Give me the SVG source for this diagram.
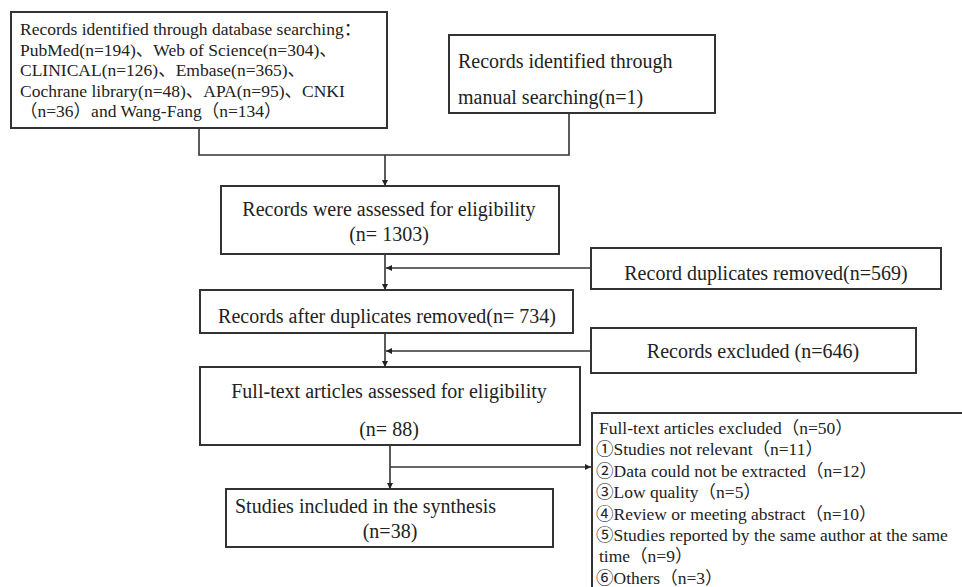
<svg xmlns="http://www.w3.org/2000/svg" width="962" height="587" viewBox="0 0 962 587">
<style>
.box{fill:#fff;stroke:#333;stroke-width:2}
.t{font-family:"Liberation Serif","Noto Sans CJK SC",serif;fill:#222}
.s20{font-size:20px}
.s17{font-size:17.5px}
.c{text-anchor:middle}
.ln{fill:none;stroke:#333;stroke-width:1.6}
</style>
<defs>
<marker id="ah" viewBox="0 0 10 10" refX="10" refY="5" markerWidth="6" markerHeight="6" markerUnits="userSpaceOnUse" orient="auto">
<path d="M0,0 L10,5 L0,10 z" fill="#222"/>
</marker>
</defs>
<rect width="962" height="587" fill="#fff"/>
<g id="connectors">
<path class="ln" d="M199,128 V155 H569 V113"/>
<path class="ln" d="M385,155 V186" marker-end="url(#ah)"/>
<path class="ln" d="M385,254 V290" marker-end="url(#ah)"/>
<path class="ln" d="M591,268 H386" marker-end="url(#ah)"/>
<path class="ln" d="M385,333 V367" marker-end="url(#ah)"/>
<path class="ln" d="M591,351 H386" marker-end="url(#ah)"/>
<path class="ln" d="M390,445 V489" marker-end="url(#ah)"/>
<path class="ln" d="M390,467 H591" marker-end="url(#ah)"/>
</g>
<g id="n1">
<rect class="box" x="11" y="12" width="376" height="116"/>
<text class="t s17" x="20" y="35">Records identified through database searching：</text>
<text class="t s17" x="20" y="55.5">PubMed(n=194)、Web of Science(n=304)、</text>
<text class="t s17" x="20" y="76">CLINICAL(n=126)、Embase(n=365)、</text>
<text class="t s17" x="20" y="96.5">Cochrane library(n=48)、APA(n=95)、CNKI</text>
<text class="t s17" x="20" y="117">（n=36）and Wang-Fang（n=134）</text>
</g>
<g id="n2">
<rect class="box" x="449" y="35" width="266" height="78"/>
<text class="t s20" x="458" y="68">Records identified through</text>
<text class="t s20" x="458" y="104">manual searching(n=1)</text>
</g>
<g id="n3">
<rect class="box" x="221" y="186" width="338" height="68"/>
<text class="t s20 c" x="389" y="216">Records were assessed for eligibility</text>
<text class="t s20 c" x="389" y="241">(n= 1303)</text>
</g>
<g id="n4">
<rect class="box" x="200" y="290" width="373" height="43"/>
<text class="t s20 c" x="387" y="323">Records after duplicates removed(n= 734)</text>
</g>
<g id="n5">
<rect class="box" x="591" y="248" width="350" height="41"/>
<text class="t s20 c" x="766" y="280">Record duplicates removed(n=569)</text>
</g>
<g id="n6">
<rect class="box" x="591" y="328" width="325" height="45"/>
<text class="t s20 c" x="753" y="358">Records excluded (n=646)</text>
</g>
<g id="n7">
<rect class="box" x="200" y="367" width="380" height="78"/>
<text class="t s20 c" x="389" y="398">Full-text articles assessed for eligibility</text>
<text class="t s20 c" x="389" y="436">(n= 88)</text>
</g>
<g id="n8">
<rect class="box" x="592" y="413" width="400" height="200"/>
<text class="t s17" x="599" y="434">Full-text articles excluded（n=50）</text>
<text class="t s17" x="596" y="455.4">①Studies not relevant（n=11）</text>
<text class="t s17" x="596" y="476.8">②Data could not be extracted（n=12）</text>
<text class="t s17" x="596" y="498.2">③Low quality（n=5）</text>
<text class="t s17" x="596" y="519.6">④Review or meeting abstract（n=10）</text>
<text class="t s17" x="596" y="541">⑤Studies reported by the same author at the same</text>
<text class="t s17" x="599" y="562.4">time（n=9）</text>
<text class="t s17" x="596" y="583.8">⑥Others（n=3）</text>
</g>
<g id="n9">
<rect class="box" x="226" y="489" width="327" height="58"/>
<text class="t s20" x="235" y="513">Studies included in the synthesis</text>
<text class="t s20 c" x="390" y="538">(n=38)</text>
</g>
</svg>
